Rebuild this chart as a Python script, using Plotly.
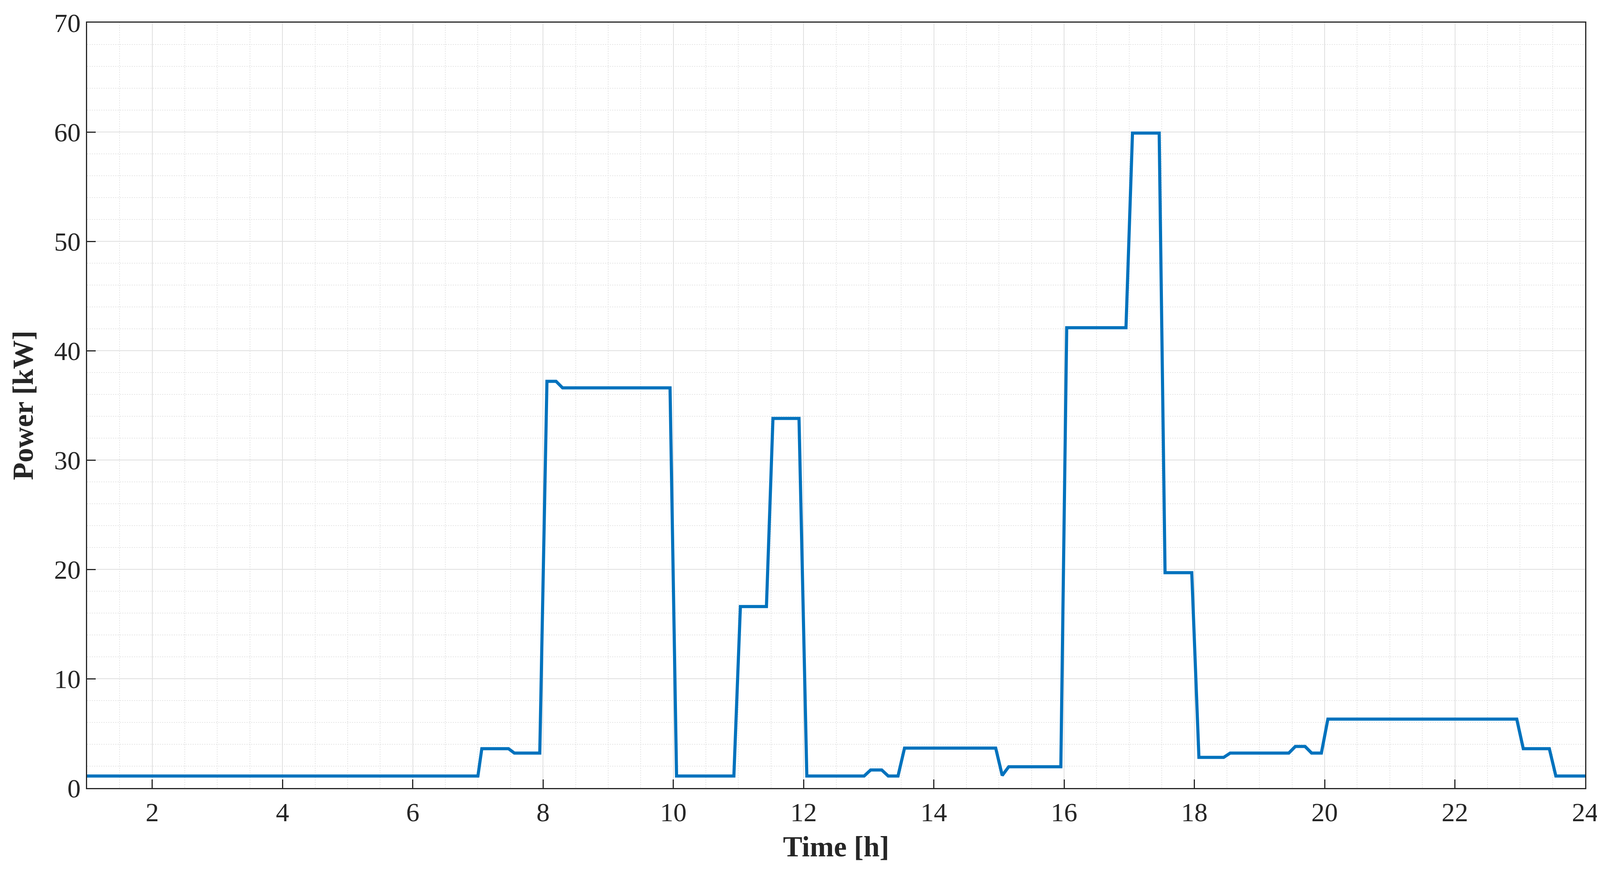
import plotly.graph_objects as go

time_h = [1, 7.0, 7.06, 7.47, 7.56, 7.95, 8.06, 8.2, 8.3, 9.95, 10.05, 10.93, 11.03, 11.43, 11.53,
          11.93, 12.05, 12.93, 13.03, 13.2, 13.3, 13.45, 13.55, 14.95, 15.05, 15.15, 15.95, 16.04,
          16.95, 17.05, 17.46, 17.55, 17.96, 18.07, 18.45, 18.55, 19.45, 19.55, 19.7, 19.8, 19.95,
          20.05, 22.95, 23.05, 23.45, 23.55, 24]
power_kw = [1.1, 1.1, 3.6, 3.6, 3.2, 3.2, 37.2, 37.2, 36.6, 36.6, 1.1, 1.1, 16.6, 16.6, 33.8,
            33.8, 1.1, 1.1, 1.65, 1.65, 1.1, 1.1, 3.65, 3.65, 1.15, 1.95, 1.95, 42.1,
            42.1, 59.9, 59.9, 19.7, 19.7, 2.8, 2.8, 3.2, 3.2, 3.8, 3.8, 3.2, 3.2,
            6.3, 6.3, 3.6, 3.6, 1.1, 1.1]
x_ticks = [2, 4, 6, 8, 10, 12, 14, 16, 18, 20, 22, 24]
y_ticks = [0, 10, 20, 30, 40, 50, 60, 70]

fig = go.Figure(go.Scatter(x=time_h, y=power_kw, mode="lines",
                           line=dict(color="#0072BD", width=8), showlegend=False))

font = dict(family="Liberation Serif", size=68, color="#262626")
common = dict(showline=True, linecolor="#262626", linewidth=3, mirror=True,
              ticks="inside", ticklen=22, tickwidth=3, tickcolor="#262626",
              showgrid=True, gridcolor="#DFDFDF", gridwidth=2, zeroline=False,
              tickfont=font)
fig.update_xaxes(range=[1, 24], tickvals=x_ticks,
                 minor=dict(dtick=0.5, showgrid=True, gridcolor="#E6E6E6", griddash="dot", gridwidth=2, ticks=""),
                 title=dict(text="<b>Time [h]</b>", font=dict(family="Liberation Serif", size=74, color="#262626"), standoff=25),
                 **common)
fig.update_yaxes(range=[0, 70], tickvals=y_ticks,
                 minor=dict(dtick=2, showgrid=True, gridcolor="#E6E6E6", griddash="dot", gridwidth=2, ticks=""),
                 title=dict(text="<b>Power [kW]</b>", font=dict(family="Liberation Serif", size=74, color="#262626"), standoff=30),
                 **common)
fig.update_layout(width=4120, height=2230, plot_bgcolor="white", paper_bgcolor="white",
                  margin=dict(l=215, r=70, t=50, b=220))
fig.write_html("out.html")
